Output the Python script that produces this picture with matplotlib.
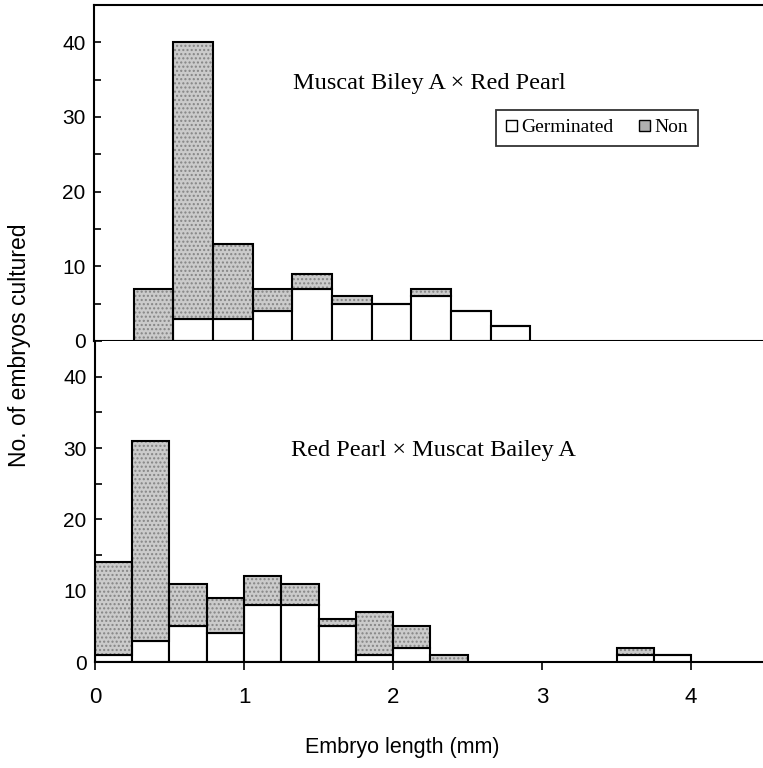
import matplotlib
matplotlib.use("Agg")
import matplotlib.pyplot as plt
from matplotlib.patches import Patch
from matplotlib.ticker import MultipleLocator

# bin left edges (mm) and counts
top_left = [0.25, 0.5, 0.75, 1.0, 1.25, 1.5, 1.75, 2.0, 2.25, 2.5]
top_germ = [0, 3, 3, 4, 7, 5, 5, 6, 4, 2]
top_non = [7, 37, 10, 3, 2, 1, 0, 1, 0, 0]

bot_left = [0.0, 0.25, 0.5, 0.75, 1.0, 1.25, 1.5, 1.75, 2.0, 2.25, 3.5, 3.75]
bot_germ = [1, 3, 5, 4, 8, 8, 5, 1, 2, 0, 1, 1]
bot_non = [13, 28, 6, 5, 4, 3, 1, 6, 3, 1, 1, 0]

bin_w = 0.25
top_title = "Muscat Biley A \u00d7 Red Pearl"
bot_title = "Red Pearl \u00d7 Muscat Bailey A"

sans = ["Liberation Sans", "DejaVu Sans"]
serif = ["Liberation Serif", "DejaVu Serif"]
shade = "#cbcbcb"
lw = 1.5


def draw_panel(ax, left, germ, non):
    ax.bar(left, germ, width=bin_w, align="edge", facecolor="white",
           edgecolor="black", linewidth=lw, zorder=2)
    # stippled part: fill + dots, then black outline on top
    ax.bar(left, non, width=bin_w, bottom=germ, align="edge",
           facecolor=shade, edgecolor="#858585", hatch="....",
           linewidth=0, zorder=2)
    ax.bar(left, non, width=bin_w, bottom=germ, align="edge",
           fill=False, edgecolor="black", linewidth=lw, zorder=3)
    ax.set_ylim(0, 45)
    ax.yaxis.set_major_locator(MultipleLocator(10))
    ax.yaxis.set_minor_locator(MultipleLocator(5))
    ax.tick_params(axis="y", which="both", direction="in", length=5,
                   width=1.2, labelsize=15, pad=6)
    ax.tick_params(axis="x", which="major", direction="out", length=6,
                   width=1.2)
    ax.spines["right"].set_visible(False)
    for s in ("left", "bottom", "top"):
        ax.spines[s].set_linewidth(lw)
    for lab in ax.get_yticklabels():
        lab.set_family(sans)


fig = plt.figure(figsize=(7.63, 7.68), dpi=100)

ax1 = fig.add_axes([0.1232, 0.556, 0.8768, 0.4375])
draw_panel(ax1, top_left, top_germ, top_non)
ax1.set_xlim(0, 4.215)
ax1.set_xticks([1, 2, 3, 4])
ax1.set_xticklabels([])
ax1.text(0.297, 0.767, top_title, transform=ax1.transAxes, fontsize=17.5,
         family=serif, va="center", ha="left")

ax2 = fig.add_axes([0.1245, 0.138, 0.8755, 0.418])
draw_panel(ax2, bot_left, bot_germ, bot_non)
ax2.spines["top"].set_visible(False)
ax2.set_xlim(0, 4.483)
ax2.set_xticks([0, 1, 2, 3, 4])
ax2.tick_params(axis="x", labelsize=16, pad=12)
for lab in ax2.get_xticklabels():
    lab.set_family(sans)
ax2.text(0.294, 0.66, bot_title, transform=ax2.transAxes, fontsize=17.5,
         family=serif, va="center", ha="left")

handles = [Patch(facecolor="white", edgecolor="black", linewidth=1.0),
           Patch(facecolor="#b0b0b0", edgecolor="black", linewidth=1.0)]
leg = fig.legend(handles, ["Germinated", "Non"], loc="center",
                 bbox_to_anchor=(597 / 763, 1 - 128 / 768), ncol=2,
                 frameon=True, fancybox=False, handlelength=0.55,
                 handleheight=0.55, handletextpad=0.25, columnspacing=1.3,
                 borderpad=0.5, prop={"family": serif, "size": 14})
leg.get_frame().set_edgecolor("black")
leg.get_frame().set_linewidth(1.3)

fig.text(20 / 763, 1 - 345 / 768, "No. of embryos cultured", rotation=90,
         ha="center", va="center", fontsize=16.5, family=sans)
fig.text(402 / 763, 1 - 748 / 768, "Embryo length (mm)", ha="center",
         va="center", fontsize=15.5, family=sans)

fig.savefig("out.png", dpi=100)
